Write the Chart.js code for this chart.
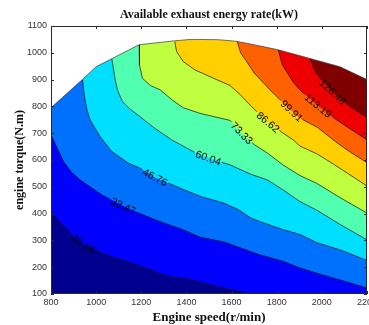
<!DOCTYPE html>
<html><head><meta charset="utf-8">
<script src="https://cdn.jsdelivr.net/npm/chart.js@4.4.0/dist/chart.umd.min.js"></script>
<style>html,body{margin:0;padding:0;background:#fff;overflow:hidden}</style>
</head><body>
<canvas id="c" width="369" height="325"></canvas>
<script>
// ---- data (engine speed r/min, engine torque N.m) ----
const speedTicks = [800, 1000, 1200, 1400, 1600, 1800, 2000, 2200];
const torqueTicks = [100, 200, 300, 400, 500, 600, 700, 800, 900, 1000, 1100];
const levels = ['20.18', '33.47', '46.76', '60.04', '73.33', '86.62', '99.91', '113.19', '126.48'];
const bandColors = ['#00008F', '#0000FF', '#0070FF', '#00DFFF', '#50FFAF', '#BFFF40', '#FFCF00', '#FF6000', '#EF0000', '#800000'];

const envelope = [[800,795],[940,901],[1000,948],[1065,976],[1190,1030],[1350,1045],[1420,1050],[1540,1049],[1620,1043],[1700,1030],[1807,1011],[1947,979],[2080,948],[2200,900]];
const floorLine = [[800,100],[2200,100]];
const c20_18 = [[800,404],[850,360],[892,322],[940,290],[1025,252],[1110,228],[1194,205],[1318,165],[1400,157],[1470,143],[1535,128],[1610,113],[1690,100],[2200,100]];
const c33_47 = [[800,695],[830,640],[855,595],[890,555],[930,525],[1025,470],[1120,428],[1194,400],[1290,368],[1386,340],[1460,312],[1563,295],[1640,272],[1726,246],[1829,222],[1903,197],[2000,172],[2100,148],[2200,122]];
const c46_76 = [[940,900],[945,860],[951,824],[960,785],[973,750],[1017,688],[1069,632],[1143,588],[1194,570],[1261,535],[1386,490],[1470,462],[1563,440],[1630,415],[1682,385],[1726,370],[1829,340],[1903,322],[1977,292],[2090,262],[2200,225]];
const c60_04 = [[1069,979],[1075,950],[1084,900],[1095,860],[1115,820],[1150,790],[1194,762],[1260,718],[1335,675],[1431,631],[1497,607],[1593,582],[1682,548],[1760,525],[1829,488],[1903,445],[1977,413],[2080,360],[2200,302]];
const c73_33 = [[1191,1029],[1191,990],[1193,955],[1205,905],[1240,878],[1283,862],[1340,822],[1386,795],[1460,774],[1593,748],[1645,700],[1700,658],[1760,625],[1829,581],[1903,542],[1977,513],[2080,460],[2200,402]];
const c86_62 = [[1349,1042],[1353,1020],[1357,1004],[1386,967],[1438,936],[1520,905],[1593,878],[1637,845],[1682,805],[1755,745],[1820,705],[1873,675],[1903,652],[1980,622],[2051,585],[2200,503]];
const c99_91 = [[1625,1043],[1640,1000],[1665,970],[1700,925],[1770,862],[1866,783],[1903,756],[1980,722],[2066,665],[2125,630],[2200,590]];
const c113_19 = [[1807,1011],[1815,985],[1825,955],[1873,890],[1903,861],[1977,806],[2066,749],[2200,675]];
const c126_48 = [[1947,979],[1960,950],[1976,925],[2000,895],[2060,843],[2125,800],[2200,758]];
const labelSpeeds = [943, 1120, 1261, 1497, 1645, 1762, 1866, 1983, 2048];

const contourLines = [c20_18, c33_47, c46_76, c60_04, c73_33, c86_62, c99_91, c113_19, c126_48];
const bandLines = [floorLine].concat(contourLines);

// approximate axis resolution, used only to size the gap left in a line for its label
const speedPerPx = 1400 / 316, torquePerPx = 1000 / 268;
const labelFont = '10.5px "Liberation Sans", Arial, sans-serif';
const measureCtx = document.createElement('canvas').getContext('2d');
measureCtx.font = labelFont;

function interpY(pts, x) {
  for (let j = 0; j < pts.length - 1; j++) {
    const [x0, y0] = pts[j], [x1, y1] = pts[j + 1];
    if (x >= x0 && x <= x1 && x1 > x0) return y0 + (y1 - y0) * (x - x0) / (x1 - x0);
  }
  return x < pts[0][0] ? pts[0][1] : pts[pts.length - 1][1];
}
function labelAngle(pts, sx) {
  const xa = sx - 35, xb = sx + 35;
  const dxp = (xb - xa) / speedPerPx;
  const dyp = -(interpY(pts, xb) - interpY(pts, xa)) / torquePerPx;
  return Math.atan2(dyp, dxp);
}
const gaps = contourLines.map((pts, i) => {
  const sx = labelSpeeds[i];
  const half = measureCtx.measureText(levels[i]).width / 2 + 1.5;
  const d = half * Math.cos(labelAngle(pts, sx)) * speedPerPx;
  return [sx - d, sx + d];
});
function withGap(pts, gap) {
  const all = pts.map(p => p.slice());
  gap.forEach(gx => { all.push([gx, interpY(pts, gx)]); });
  return all.map((p, k) => [p, k]).sort((a, b) => (a[0][0] - b[0][0]) || (a[1] - b[1])).map(e => e[0]);
}

const datasets = [];
// filled bands (no outline)
bandLines.forEach((pts, i) => {
  datasets.push({
    data: pts.map(([x, y]) => ({x, y})),
    fill: 'end',
    backgroundColor: bandColors[i],
    borderWidth: 0,
    borderColor: 'rgba(0,0,0,0)',
    pointRadius: 0,
    tension: 0,
    order: 40 - i
  });
});
// contour lines, broken where their labels sit
contourLines.forEach((pts, i) => {
  const gap = gaps[i];
  datasets.push({
    data: withGap(pts, gap).map(([x, y]) => ({x, y})),
    fill: false,
    borderColor: '#111',
    borderWidth: 0.7,
    pointRadius: 0,
    tension: 0,
    order: 10,
    segment: {
      borderColor: ctx => {
        const a = ctx.p0.parsed, b = ctx.p1.parsed;
        if (a.y <= 100 && b.y <= 100) return 'rgba(0,0,0,0)';
        if (a.x >= gap[0] - 0.01 && b.x <= gap[1] + 0.01) return 'rgba(0,0,0,0)';
        return undefined;
      }
    }
  });
});
// region outside the operating envelope
datasets.push({
  data: envelope.map(([x, y]) => ({x, y})),
  fill: 'end',
  backgroundColor: '#ffffff',
  borderColor: '#3a3a3a',
  borderWidth: 0.7,
  pointRadius: 0,
  tension: 0,
  order: 0
});

const framePlugin = {
  id: 'frame',
  afterDatasetsDraw(chart) {
    const {ctx, chartArea: a, scales: {x, y}} = chart;
    ctx.save();
    ctx.font = labelFont;
    ctx.fillStyle = '#000';
    ctx.textAlign = 'center';
    ctx.textBaseline = 'middle';
    labelSpeeds.forEach((sx, i) => {
      const pts = contourLines[i];
      const sy = interpY(pts, sx);
      const px = x.getPixelForValue(sx), py = y.getPixelForValue(sy);
      const xa = sx - 35, xb = sx + 35;
      const ang = Math.atan2(y.getPixelForValue(interpY(pts, xb)) - y.getPixelForValue(interpY(pts, xa)),
                             x.getPixelForValue(xb) - x.getPixelForValue(xa));
      ctx.save();
      ctx.translate(px, py);
      ctx.rotate(ang);
      ctx.fillText(levels[i], 0, 0.5);
      ctx.restore();
    });
    ctx.restore();
    ctx.save();
    ctx.strokeStyle = '#2a2a2a';
    ctx.lineWidth = 1;
    ctx.strokeRect(a.left + 0.5, a.top + 0.5, a.right - a.left - 1, a.bottom - a.top - 1);
    ctx.beginPath();
    const tl = 3;
    speedTicks.forEach(v => {
      const p = Math.round(x.getPixelForValue(v)) + 0.5;
      ctx.moveTo(p, a.bottom); ctx.lineTo(p, a.bottom - tl);
      ctx.moveTo(p, a.top); ctx.lineTo(p, a.top + tl);
    });
    torqueTicks.forEach(v => {
      const p = Math.round(y.getPixelForValue(v)) + 0.5;
      ctx.moveTo(a.left, p); ctx.lineTo(a.left + tl, p);
      ctx.moveTo(a.right, p); ctx.lineTo(a.right - tl, p);
    });
    ctx.stroke();
    ctx.restore();
  }
};

const tickFont = {family: '"Liberation Sans", Arial, sans-serif', size: 9};
const titleFamily = '"Liberation Serif", "Times New Roman", serif';

new Chart(document.getElementById('c'), {
  type: 'line',
  data: {datasets},
  options: {
    responsive: false,
    animation: false,
    devicePixelRatio: 1,
    layout: {padding: {left: 0, right: 2, top: 0, bottom: 0}},
    plugins: {
      legend: {display: false},
      tooltip: {enabled: false},
      title: {
        display: true,
        fullSize: false,
        text: 'Available exhaust energy rate(kW)',
        color: '#111',
        font: {family: titleFamily, size: 12, weight: 'bold'},
        padding: {top: 8, bottom: 3.6}
      }
    },
    scales: {
      x: {
        type: 'linear', min: 800, max: 2200,
        afterBuildTicks: s => { s.ticks = speedTicks.map(v => ({value: v})); },
        ticks: {font: tickFont, color: '#333', padding: 3, maxRotation: 0, autoSkip: false, callback: v => String(v)},
        grid: {display: false, drawTicks: false},
        border: {display: false},
        title: {display: true, text: 'Engine speed(r/min)', color: '#111', font: {family: titleFamily, size: 13, weight: 'bold'}, padding: {top: 0, bottom: 0}},
        afterFit: s => { s.height = 31; s.paddingLeft = 0; s.paddingRight = 0; }
      },
      y: {
        type: 'linear', min: 100, max: 1100,
        afterBuildTicks: s => { s.ticks = torqueTicks.map(v => ({value: v})); },
        ticks: {font: tickFont, color: '#333', padding: 4, autoSkip: false, callback: v => String(v)},
        grid: {display: false, drawTicks: false},
        border: {display: false},
        title: {display: true, text: 'engine torque(N.m)', color: '#111', font: {family: titleFamily, size: 12, weight: 'bold'}, padding: {top: 13, bottom: 0}},
        afterFit: s => { s.width = 51; }
      }
    }
  },
  plugins: [framePlugin]
});
</script>
</body></html>
